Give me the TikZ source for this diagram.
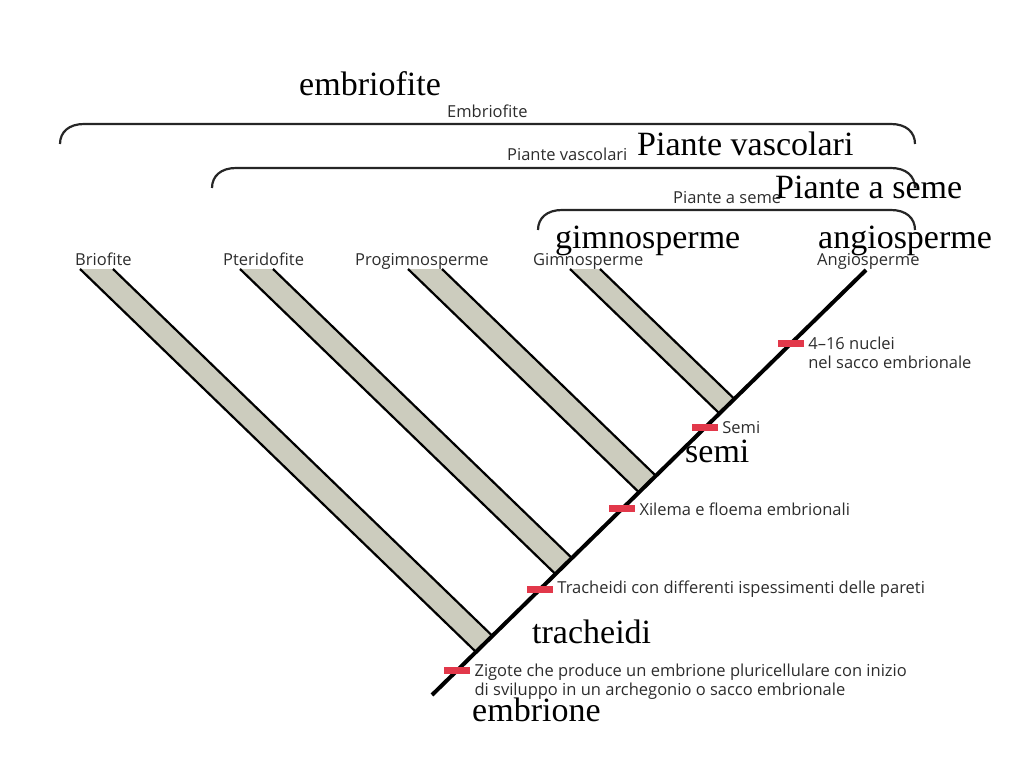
\documentclass[tikz,border=0pt]{standalone}
\usepackage{fontspec}
\setmainfont{Liberation Serif}
\setsansfont{Open Sans}
\usetikzlibrary{calc,positioning}

\definecolor{grigiobanda}{RGB}{204,204,190}
\definecolor{rosso}{RGB}{226,56,74}
\definecolor{scuro}{RGB}{45,45,45}

\tikzset{
  etichetta/.style={font=\sffamily\fontsize{16.5}{19.5}\selectfont, text=scuro, inner sep=0pt},
  grande/.style={font=\fontsize{34}{38}\selectfont, inner sep=0pt},
  carattere/.style={fill=rosso, minimum width=26pt, minimum height=7pt, inner sep=0pt},
  parentesi/.style={draw=black!85, line width=2.2pt},
  bordo/.style={line width=2.2pt},
}

\begin{document}
\begin{tikzpicture}[x=1pt,y=-1pt]
\useasboundingbox (0,0) rectangle (1024,768);

% asse principale
\coordinate (radice) at (432,695);
\coordinate (apice) at (866,270);

% bande dei gruppi
\foreach \a/\b/\n in {80/113/brio,240/273/pter,408/442/progim,570/600/gimno}{
  \coordinate (\n s) at (\a,269);
  \coordinate (\n d) at (\b,269);
  \coordinate (\n bs) at (intersection of \a,269--\a+100,365.7 and radice--apice);
  \coordinate (\n bd) at (intersection of \b,269--\b+100,365.7 and radice--apice);
  \fill[grigiobanda] (\n s) -- (\n d) -- (\n bd) -- (\n bs) -- cycle;
  \draw[bordo] (\n s) -- (\n bs) (\n d) -- (\n bd);
}
\draw[line width=4pt] (radice) -- (apice);

% parentesi
\foreach \x/\y in {60/124,212/168,538/210}
  \draw[parentesi] (\x,\y+20) .. controls (\x,\y+8) and (\x+9,\y) .. (\x+24,\y)
    -- (891,\y) .. controls (906,\y) and (915,\y+8) .. (915,\y+20);
\node[etichetta, anchor=base west] (embrio) at (447,117) {Embriofite};
\node[etichetta, anchor=base west] (vasc) at (507,160) {Piante vascolari};
\node[etichetta, anchor=base west] (seme) at (673,203) {Piante a seme};

% gruppi
\node[etichetta, anchor=base west] (brio) at (75,265) {Briofite};
\node[etichetta, anchor=base west] (pter) at (223,265) {Pteridofite};
\node[etichetta, anchor=base west] (progim) at (355,265) {Progimnosperme};
\node[etichetta, anchor=base west] (gimno) at (533,265) {Gimnosperme};
\node[etichetta, anchor=base west] (angio) at (817,265) {Angiosperme};

% caratteri
\node[carattere] (c1) at ($(radice)!0.058!(apice)$) {};
\node[carattere] (c2) at ($(radice)!0.249!(apice)$) {};
\node[carattere] (c3) at ($(radice)!0.438!(apice)$) {};
\node[carattere] (c4) at ($(radice)!0.629!(apice)$) {};
\node[carattere] (c5) at ($(radice)!0.827!(apice)$) {};
\node[etichetta, align=left, anchor=north west] (t1) at ($(c1.east)+(4,-7)$)
  {Zigote che produce un embrione pluricellulare con inizio\\di sviluppo in un archegonio o sacco embrionale};
\node[etichetta, right=4pt of c2] (t2) {Tracheidi con differenti ispessimenti delle pareti};
\node[etichetta, right=4pt of c3] (t3) {Xilema e floema embrionali};
\node[etichetta, right=4pt of c4] (t4) {Semi};
\node[etichetta, align=left, anchor=north west] (t5) at ($(c5.east)+(4,-7)$)
  {4–16 nuclei\\nel sacco embrionale};

% etichette aggiunte
\node[grande, anchor=base west] (g1) at (299,95) {embriofite};
\node[grande, anchor=base west] (g2) at (637,155) {Piante vascolari};
\node[grande, anchor=base west] (g3) at (775,198) {Piante a seme};
\node[grande, anchor=base west] (g4) at (555,248) {gimnosperme};
\node[grande, anchor=base west] (g5) at (818,248) {angiosperme};
\node[grande, anchor=base west] (g6) at (685,462) {semi};
\node[grande, anchor=base west] (g7) at (532,643) {tracheidi};
\node[grande, anchor=base west] (g8) at (472,721) {embrione};
\end{tikzpicture}
\end{document}
